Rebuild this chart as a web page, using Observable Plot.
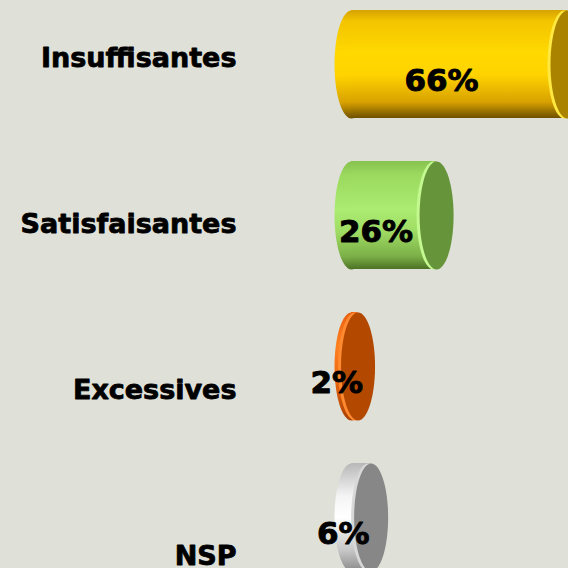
<!DOCTYPE html>
<html><head><meta charset="utf-8">
<script src="https://cdn.jsdelivr.net/npm/d3@7"></script>
<script src="https://cdn.jsdelivr.net/npm/@observablehq/plot@0.6"></script>
<style>html,body{margin:0;padding:0;background:#dfe0d8;overflow:hidden}</style>
</head><body><div id="chart"></div>
<script>
const categories = ["Insuffisantes", "Satisfaisantes", "Excessives", "NSP"];
const values = [66, 26, 2, 6];
const valueLabels = ["66%", "26%", "2%", "6%"];

// styles (kept apart from the data)
const bodyStops = [
  [[0, "#d6a300"], [0.1, "#f3c400"], [0.4, "#ffd900"], [0.6, "#ffd300"], [0.85, "#d9a200"], [1, "#6e5000"]],
  [[0, "#86c24e"], [0.12, "#9ad85e"], [0.45, "#acec72"], [0.65, "#9fdc64"], [0.88, "#7cb048"], [1, "#4c7224"]],
  [[0, "#e86010"], [0.3, "#ff8020"], [0.6, "#f06a10"], [1, "#a84000"]],
  [[0, "#b8b8b8"], [0.3, "#f4f4f4"], [0.5, "#ffffff"], [0.8, "#c8c8c8"], [1, "#8a8a8a"]]
];
const capColors = ["#aa8300", "#66943a", "#b34800", "#878787"];
const capHighlights = ["#ffe840", "#c4f890", "#ff8a30", "#d8d8d8"];

const Y0 = 64, Y3 = 517, HALF = 0.3576, RX = 17;
const RY = HALF * (Y3 - Y0) / 3;

const data = categories.map((c, i) => ({
  category: c, value: values[i], label: valueLabels[i], idx: i,
  labelRow: i * 1.1 - 0.04,
  body: `url(#body${i})`, cap: capColors[i], hi: capHighlights[i]
}));

const ellipse = {draw(ctx) {
  const k = 0.5523;
  ctx.moveTo(-RX, 0);
  ctx.bezierCurveTo(-RX, -RY * k, -RX * k, -RY, 0, -RY);
  ctx.bezierCurveTo(RX * k, -RY, RX, -RY * k, RX, 0);
  ctx.bezierCurveTo(RX, RY * k, RX * k, RY, 0, RY);
  ctx.bezierCurveTo(-RX * k, RY, -RX, RY * k, -RX, 0);
  ctx.closePath();
}};

const svg = Plot.plot({
  width: 568, height: 568,
  marginLeft: 236, marginRight: 0, marginTop: 0, marginBottom: 0,
  style: {background: "#dfe0d8", overflow: "hidden"},
  x: {domain: [0, 66], range: [351, 567], axis: null},
  y: {type: "linear", domain: [0, 3], range: [Y0, Y3], axis: null},
  color: {type: "identity"},
  marks: [
    Plot.dot(data, {x: () => 0, y: "idx", symbol: ellipse, r: 10, fill: "body", stroke: "none"}),
    Plot.rect(data, {x1: () => 0, x2: "value", y1: d => d.idx - HALF, y2: d => d.idx + HALF, fill: "body", inset: 0}),
    Plot.dot(data, {x: "value", y: "idx", symbol: ellipse, r: 10, fill: "hi", dx: -3, stroke: "none"}),
    Plot.dot(data, {x: "value", y: "idx", symbol: ellipse, r: 10, fill: "cap", stroke: "none"}),
    Plot.text(data, {x: d => d.value / 2, y: "idx", text: "label", dx: -18, dy: 17,
      fontSize: 31, fontWeight: "bold", fill: "black", stroke: "black", strokeWidth: 0.9,
      fontFamily: "DejaVu Sans"}),
    Plot.text(data, {y: "labelRow", text: "category", frameAnchor: "left", textAnchor: "end",
      fontSize: 27, fontWeight: "bold", fill: "black", stroke: "black", strokeWidth: 0.8,
      fontFamily: "DejaVu Sans"})
  ]
});

const defs = d3.select(svg).insert("defs", ":first-child");
bodyStops.forEach((stops, i) => {
  const g = defs.append("linearGradient").attr("id", `body${i}`)
    .attr("x1", 0).attr("y1", 0).attr("x2", 0).attr("y2", 1);
  stops.forEach(([o, c]) => g.append("stop").attr("offset", o).attr("stop-color", c));
});

document.getElementById("chart").appendChild(svg);
</script>
</body></html>
